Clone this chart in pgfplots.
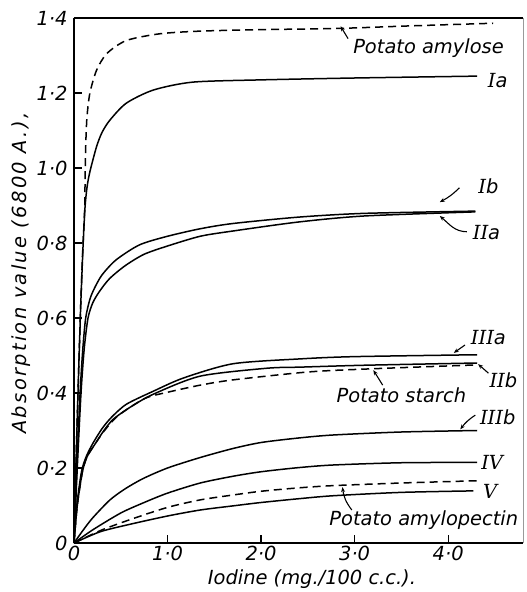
\documentclass[border=0pt]{standalone}
\usepackage{fontspec}
\setmainfont{DejaVu Sans}
\newfontfamily\rmn{DejaVu Serif}
\usepackage{pgfplots}
\pgfplotsset{compat=1.18}
\usetikzlibrary{arrows.meta}
\newcommand\lab{\fontsize{19.5}{22}\selectfont\itshape}
\newcommand\rn[1]{{\rmn\itshape #1}}
\begin{document}
\begin{tikzpicture}
\begin{axis}[
  scale only axis, width=449bp, height=525bp,
  xmin=0, xmax=4.8, ymin=0, ymax=1.4,
  axis x line=box, axis y line=left,
  axis line style={line width=1.4bp, -},
  xtick={0,1,2,3,4}, xticklabels={0,1·0,2·0,3·0,4·0},
  ytick={0,0.2,0.4,0.6,0.8,1.0,1.2,1.4},
  yticklabels={0,0·2,0·4,0·6,0·8,1·0,1·2,1·4},
  xtick pos=lower, ytick pos=left,
  tick align=inside, major tick length=8bp,
  tick style={line width=1.2bp, black},
  tick label style={font=\lab},
  yticklabel style={xshift=-3bp},
  clip=false,
  crv/.style={black, line width=1.5bp, smooth, tension=0.45, mark=none},
  dsh/.style={crv, dash pattern=on 8bp off 5bp},
]
\coordinate (SW) at (rel axis cs:0,0);
\draw[line width=0.6bp, black!40] (rel axis cs:1,0) -- (rel axis cs:1,1);
\node at ([yshift=-36bp]rel axis cs:0.53,0) {\lab Iodine (mg./100 c.c.).};
\node[rotate=90] at ([xshift=-53bp]rel axis cs:0,0.514) {\lab\addfontfeature{LetterSpace=12}Absorption value (6800 A.),};
% potato amylose
\addplot[dsh] coordinates {(0,0) (0.02,0.2) (0.045,0.42) (0.07,0.62) (0.09,0.76) (0.105,0.84) (0.115,0.9) (0.12,1.0) (0.128,1.08) (0.14,1.14) (0.17,1.2) (0.24,1.26) (0.35,1.305) (0.56,1.34) (0.92,1.358) (1.35,1.365) (2.0,1.369) (2.8,1.372) (3.6,1.379) (4.48,1.386)};
% Ia
\addplot[crv] coordinates {(0,0) (0.02,0.2) (0.045,0.42) (0.07,0.62) (0.09,0.75) (0.1,0.81) (0.118,0.896) (0.14,0.95) (0.17,0.99) (0.24,1.056) (0.3,1.095) (0.385,1.128) (0.56,1.173) (0.85,1.208) (1.27,1.229) (2.0,1.235) (3.0,1.24) (4.31,1.245)};
% Ib
\addplot[crv] coordinates {(0,0) (0.03,0.2) (0.065,0.4) (0.095,0.52) (0.125,0.6) (0.17,0.65) (0.22,0.68) (0.3,0.715) (0.45,0.755) (0.7,0.795) (1.0,0.818) (1.35,0.838) (1.7,0.852) (2.4,0.869) (3.1,0.879) (4.29,0.885)};
% IIa
\addplot[crv] coordinates {(0,0) (0.035,0.2) (0.075,0.4) (0.11,0.52) (0.15,0.6) (0.2,0.64) (0.27,0.67) (0.38,0.705) (0.55,0.74) (0.75,0.77) (1.0,0.792) (1.35,0.818) (1.7,0.832) (2.4,0.856) (3.1,0.872) (4.29,0.883)};
% IIIa
\addplot[crv] coordinates {(0,0) (0.03,0.1) (0.08,0.19) (0.13,0.23) (0.2,0.265) (0.3,0.305) (0.4,0.335) (0.56,0.37) (0.85,0.405) (1.17,0.44) (1.7,0.478) (2.42,0.491) (3.0,0.497) (4.31,0.502)};
% IIb
\addplot[crv] coordinates {(0,0) (0.035,0.1) (0.09,0.19) (0.14,0.23) (0.22,0.262) (0.32,0.3) (0.42,0.33) (0.6,0.362) (0.85,0.397) (1.35,0.445) (2.06,0.466) (2.42,0.469) (3.1,0.474) (4.31,0.48)};
% potato starch
\addplot[dsh] coordinates {(0,0) (0.035,0.1) (0.09,0.19) (0.14,0.23) (0.22,0.262) (0.32,0.298) (0.45,0.335) (0.6,0.362) (0.78,0.388) (1.0,0.402) (1.35,0.421) (1.7,0.435) (2.5,0.456) (3.13,0.464) (4.31,0.475)};
% IIIb
\addplot[crv] coordinates {(0,0) (0.1,0.035) (0.2,0.067) (0.385,0.115) (0.55,0.145) (0.74,0.172) (1.0,0.2) (1.35,0.228) (1.7,0.252) (2.0,0.268) (2.4,0.28) (2.77,0.288) (3.5,0.296) (4.31,0.3)};
% IV
\addplot[crv] coordinates {(0,0) (0.2,0.035) (0.5,0.08) (0.75,0.108) (1.0,0.133) (1.35,0.16) (1.7,0.178) (2.0,0.19) (2.4,0.201) (2.77,0.208) (3.5,0.214) (4.31,0.215)};
% potato amylopectin
\addplot[dsh] coordinates {(0,0) (0.3,0.035) (0.63,0.065) (1.0,0.095) (1.35,0.115) (1.7,0.128) (2.0,0.138) (2.4,0.147) (2.77,0.153) (3.5,0.16) (4.31,0.166)};
% V
\addplot[crv] coordinates {(0,0) (0.28,0.03) (0.6,0.05) (1.0,0.072) (1.35,0.088) (1.7,0.099) (2.0,0.108) (2.4,0.118) (2.77,0.126) (3.5,0.135) (4.27,0.139)};

% labels and pointers
\tikzset{ptr/.style={line width=1.1bp, -{Stealth[length=5bp,width=4bp]}}}
\node at (3.79,1.32) {\lab Potato amylose};
\draw[ptr] (2.93,1.345) -- (2.85,1.378);
\node at (4.53,1.232) {\lab\rn{I}a};
\node at (4.43,0.952) {\lab\rn{I}b};
\draw[ptr] (4.12,0.947) to[bend left=8] (3.91,0.909);
\node at (4.41,0.827) {\lab\rn{II}a};
\draw[ptr] (4.2,0.83) to[out=180,in=-40] (3.91,0.872);
\node at (4.43,0.549) {\lab\rn{III}a};
\draw[ptr] (4.18,0.528) -- (4.06,0.507);
\node at (4.59,0.435) {\lab\rn{II}b};
\draw[ptr] (4.43,0.453) -- (4.32,0.477);
\node at (3.5,0.395) {\lab Potato starch};
\draw[ptr] (3.3,0.421) -- (3.2,0.461);
\node at (4.53,0.336) {\lab\rn{III}b};
\draw[ptr] (4.29,0.341) to[bend right=10] (4.13,0.303);
\node at (4.47,0.216) {\lab\rn{IV}};
\node at (4.45,0.138) {\lab\rn{V}};
\node at (3.74,0.061) {\lab Potato amylopectin};
\draw[ptr] (2.97,0.088) to[bend left=15] (2.87,0.149);
\end{axis}
\pgfresetboundingbox
\path ([shift={(-74bp,-49bp)}]SW) rectangle ([shift={(453bp,543bp)}]SW);
\end{tikzpicture}
\end{document}
